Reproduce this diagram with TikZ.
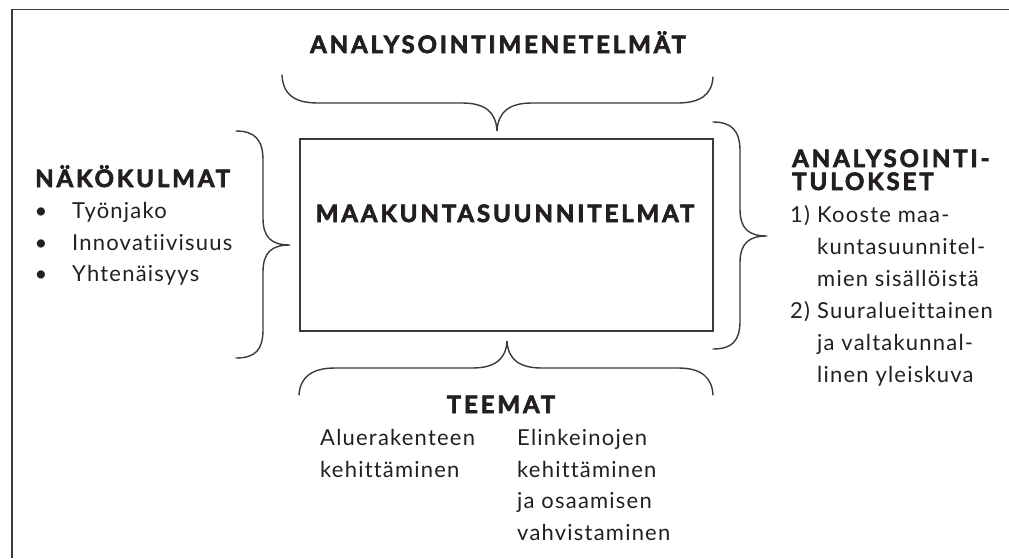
\documentclass[tikz,border=0pt]{standalone}
\usepackage{fontspec}
\setmainfont{Lato}[LetterSpace=5.5, Ligatures=NoCommon]
\newfontfamily\hdfont{Lato}[LetterSpace=12, Ligatures=NoCommon, BoldFeatures={FakeBold=3}]
\definecolor{linecol}{HTML}{3A3A3A}
\definecolor{txt}{HTML}{231F20}
\begin{document}
\begin{tikzpicture}[x=1pt,y=-1pt,
  brace/.style={draw=linecol, line width=1.4pt, line cap=round},
  box/.style={draw=linecol, line width=1.8pt, inner sep=0pt},
  frameline/.style={draw=linecol, line width=1.1pt},
  hd/.style={font=\hdfont\fontsize{24}{24}\selectfont\bfseries, text=txt, inner sep=0pt},
  tx/.style={font=\fontsize{22}{32}\selectfont, text=txt, inner sep=0pt},
  bul/.style={font=\fontsize{22}{32}\selectfont, text=txt, inner sep=0pt}]
\useasboundingbox (0,0) rectangle (1009,558);
% frame
\draw[frameline] (1009,9.5) -- (12,9.5) -- (12,558);
% central box
\node[box, minimum width=413pt, minimum height=192pt] (mk) at (506.5,235) {};
\node[hd, anchor=base] (mkt) at (505,222) {MAAKUNTASUUNNITELMAT};
% top
\node[hd, anchor=base] (title) at (498,53) {ANALYSOINTIMENETELMÄT};
\draw[brace] (282,75) .. controls (283,95) and (295,103) .. (318,103) -- (462,103)
  .. controls (485,103) and (496,112) .. (497,131)
  .. controls (498,112) and (509,103) .. (532,103) -- (677,103)
  .. controls (700,103) and (712,95) .. (713,77);
% left
\node[hd, anchor=base west] (nako) at (35,187) {NÄKÖKULMAT};
\node[bul, anchor=base] (b1) at (41,218) {•};
\node[bul, anchor=base] (b2) at (41,250) {•};
\node[bul, anchor=base] (b3) at (41,281) {•};
\node[tx, anchor=base west] (n1) at (72,218) {Työnjako};
\node[tx, anchor=base west] (n2) at (72,250) {Innovatiivisuus};
\node[tx, anchor=base west] (n3) at (72,281) {Yhtenäisyys};
\draw[brace] (236,131) .. controls (255,131) and (263,140) .. (263,160) -- (263,218)
  .. controls (263,238) and (272,245) .. (290,245)
  .. controls (272,245) and (263,252) .. (263,272) -- (263,330)
  .. controls (263,350) and (255,358) .. (236,358);
% right
\draw[brace] (713,122) .. controls (732,122) and (740,131) .. (740,151) -- (740,209)
  .. controls (740,229) and (749,236) .. (767,236)
  .. controls (749,236) and (740,243) .. (740,263) -- (740,321)
  .. controls (740,341) and (732,349) .. (713,349);
\node[hd, anchor=base west] (an1) at (792,167) {ANALYSOINTI-};
\node[hd, anchor=base west] (an2) at (792,190) {TULOKSET};
\node[tx, anchor=base west] (r1n) at (790,222) {1)};
\node[tx, anchor=base west] (r1a) at (817,222) {Kooste maa-};
\node[tx, anchor=base west] (r1b) at (817,254) {kuntasuunnitel-};
\node[tx, anchor=base west] (r1c) at (817,286) {mien sisällöistä};
\node[tx, anchor=base west] (r2n) at (790,318) {2)};
\node[tx, anchor=base west] (r2a) at (817,318) {Suuralueittainen};
\node[tx, anchor=base west] (r2b) at (817,350) {ja valtakunnal-};
\node[tx, anchor=base west] (r2c) at (817,382) {linen yleiskuva};
% bottom
\draw[brace] (299,395) .. controls (300,377) and (312,368) .. (335,368) -- (472,368)
  .. controls (494,368) and (506,360) .. (507,341)
  .. controls (508,360) and (520,368) .. (542,368) -- (678,368)
  .. controls (701,368) and (712,377) .. (713,395);
\node[hd, anchor=base] (teemat) at (501,413) {TEEMAT};
\node[tx, anchor=base west] (t1a) at (320,445) {Aluerakenteen};
\node[tx, anchor=base west] (t1b) at (320,477) {kehittäminen};
\node[tx, anchor=base west] (t2a) at (517,445) {Elinkeinojen};
\node[tx, anchor=base west] (t2b) at (517,477) {kehittäminen};
\node[tx, anchor=base west] (t2c) at (517,508) {ja osaamisen};
\node[tx, anchor=base west] (t2d) at (517,540) {vahvistaminen};
\end{tikzpicture}
\end{document}
